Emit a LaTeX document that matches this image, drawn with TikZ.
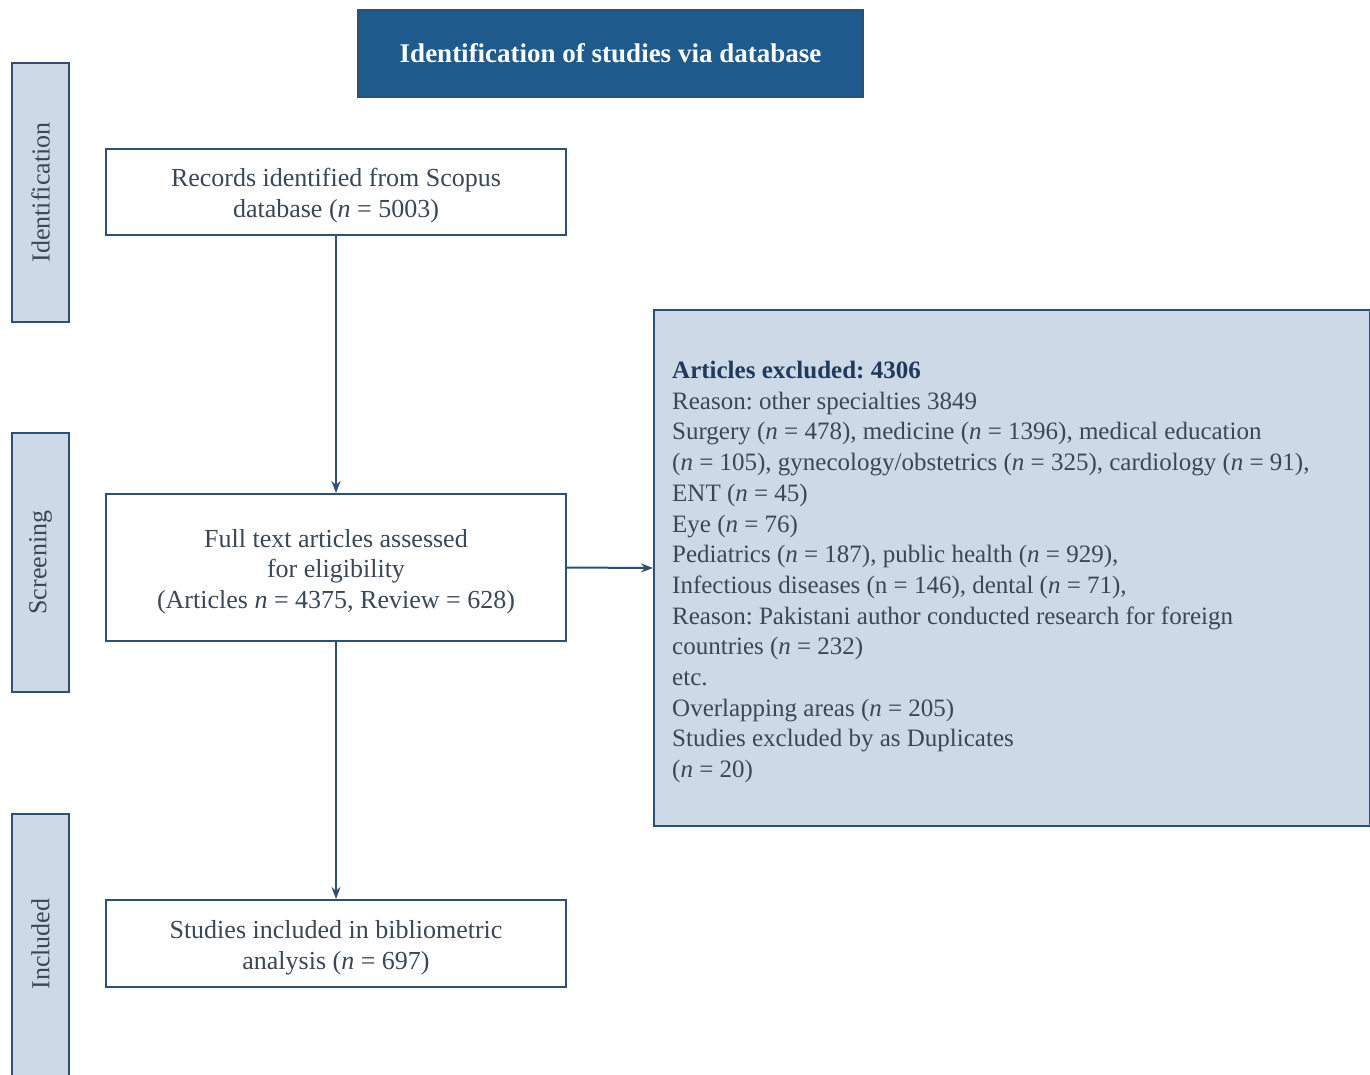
\documentclass[tikz,border=0pt]{standalone}
\usepackage{fontspec}
\setmainfont{Liberation Serif}
\usetikzlibrary{arrows.meta}
\definecolor{dblue}{HTML}{1E5A8C}
\definecolor{edge}{HTML}{2F4F74}
\definecolor{lfill}{HTML}{CDD9E7}
\definecolor{txt}{HTML}{3A4756}
\definecolor{head}{HTML}{1F3A5C}
\frenchspacing
\newcommand{\dn}{\rule{0pt}{26pt}}
\begin{document}
\begin{tikzpicture}[x=1pt,y=-1pt,
  box/.style={draw=edge,line width=2pt,fill=white,text=txt,align=center,font=\fontsize{26}{31}\selectfont,inner sep=0pt},
  side/.style={draw=edge,line width=2pt,fill=lfill},
  sidetxt/.style={rotate=90,text=txt,font=\fontsize{26}{30}\selectfont},
  arr/.style={draw=edge,line width=2pt,-{Stealth[length=12pt,width=9pt]}}]
\useasboundingbox (0,0) rectangle (1370,1074);
% title
\node[draw=edge,line width=2pt,fill=dblue,text=white,font=\bfseries\fontsize{27}{30}\selectfont,minimum width=505pt,minimum height=87pt,inner sep=0pt] (title) at (610.5,53.5) {Identification of studies via database};
% side labels
\path[side] (12,63) rectangle (69,322);
\node[sidetxt] (lid) at (40.5,192.5) {Identification};
\path[side] (12,433) rectangle (69,692);
\node[sidetxt] (lsc) at (40.5,562.5) {Screening};
\path[side] (12,814) rectangle (69,1080);
\node[sidetxt] (lin) at (40.5,944) {Included};
% main boxes
\node[box,minimum width=460pt,minimum height=86pt] (b1) at (336,192) {\dn Records identified from Scopus\\database (\textit{n} = 5003)};
\node[box,minimum width=460pt,minimum height=147pt,font=\fontsize{26}{30.5}\selectfont] (b2) at (336,567.5) {\dn Full text articles assessed\\for eligibility\\(Articles \textit{n} = 4375, Review = 628)};
\node[box,minimum width=460pt,minimum height=87pt] (b3) at (336,943.5) {\dn Studies included in bibliometric\\analysis (\textit{n} = 697)};
% exclusion box
\node[draw=edge,line width=2pt,fill=lfill,minimum width=716pt,minimum height=516pt,inner sep=0pt] (ex) at (1012,568) {};
\node[anchor=north west,text=txt,align=left,font=\fontsize{25}{30.7}\selectfont,inner sep=0pt] (ext) at (672,361)
{{\color{head}\bfseries Articles excluded: 4306}\\
Reason: other specialties 3849\\
Surgery (\textit{n} = 478), medicine (\textit{n} = 1396), medical education\\
(\textit{n} = 105), gynecology/obstetrics (\textit{n} = 325), cardiology (\textit{n} = 91),\\
ENT (\textit{n} = 45)\\
Eye (\textit{n} = 76)\\
Pediatrics (\textit{n} = 187), public health (\textit{n} = 929),\\
Infectious diseases (n = 146), dental (\textit{n} = 71),\\
Reason: Pakistani author conducted research for foreign\\
countries (\textit{n} = 232)\\
etc.\\
Overlapping areas (\textit{n} = 205)\\
Studies excluded by as Duplicates\\
(\textit{n} = 20)};
% arrows
\draw[arr] (b1.south) -- (b2.north);
\draw[arr] (b2.south) -- (b3.north);
\draw[arr] (b2.east) -- (ex.west);
\end{tikzpicture}
\end{document}
